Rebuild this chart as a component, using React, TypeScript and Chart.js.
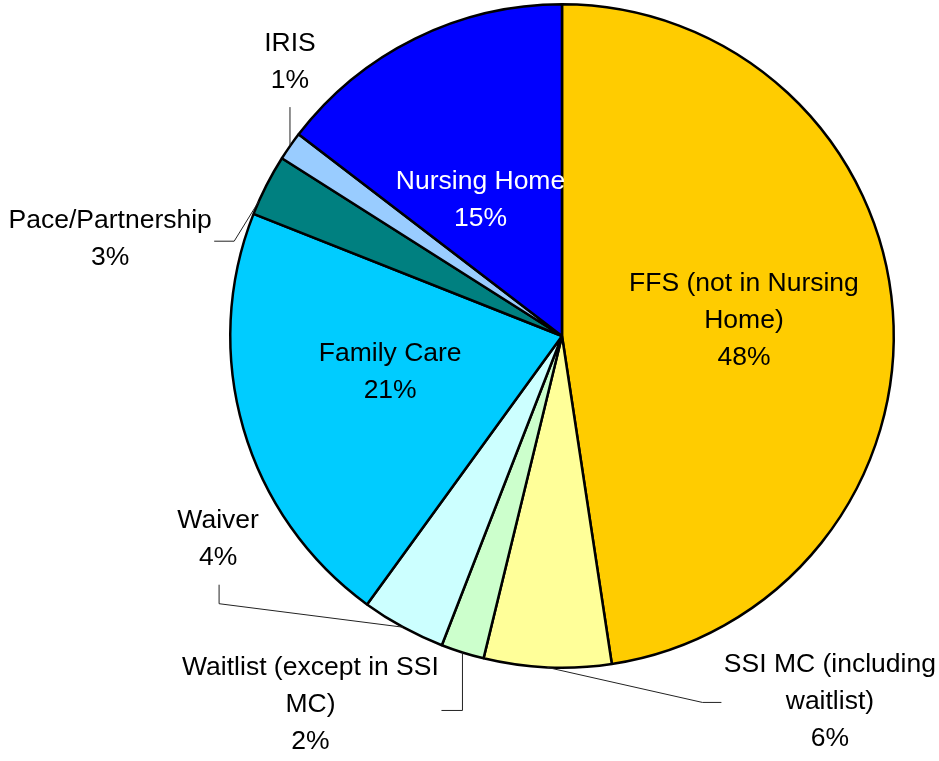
import React, { useEffect, useRef } from "react";
import { Chart, registerables } from "chart.js";

Chart.register(...registerables);

const categories = [
  "FFS (not in Nursing Home)",
  "SSI MC (including waitlist)",
  "Waitlist (except in SSI MC)",
  "Waiver",
  "Family Care",
  "Pace/Partnership",
  "IRIS",
  "Nursing Home",
];

const shares = [47.6, 6.2, 2.1, 4.1, 21.0, 3.0, 1.4, 14.6];

const labelLines = [
  ["FFS (not in Nursing", "Home)"],
  ["SSI MC (including", "waitlist)"],
  ["Waitlist (except in SSI", "MC)"],
  ["Waiver"],
  ["Family Care"],
  ["Pace/Partnership"],
  ["IRIS"],
  ["Nursing Home"],
];

const colors = ["#FFCC00", "#FFFF99", "#CCFFCC", "#CCFFFF", "#00CCFF", "#008080", "#99CCFF", "#0000FF"];
const textColors = ["#000", "#000", "#000", "#000", "#000", "#000", "#000", "#FFFFFF"];

// label layout: inside labels at a radius fraction; outside labels relative to an edge anchor
type Lay = { inside: boolean; r: number; t: number; dx: number; dy: number; leader?: number[][] };
const layout: Lay[] = [
  { inside: true, r: 0.55, t: 0.5, dx: 0, dy: -2 },
  { inside: false, r: 1, t: 0.5, dx: 282.5, dy: 34, leader: [[155, 35], [174, 35]] },
  { inside: false, r: 1, t: 0.5, dx: -152, dy: 52, leader: [[0, 58], [-21, 58]] },
  { inside: false, r: 1, t: 0.5, dx: -185, dy: -88, leader: [[-184, -23.5], [-184, -42.5]] },
  { inside: true, r: 0.53, t: 0.5, dx: -3, dy: -13 },
  { inside: false, r: 1, t: 0.22, dx: -148.7, dy: 37.5, leader: [[-24.7, 40], [-44.7, 40]] },
  { inside: false, r: 1, t: 0.5, dx: 0, dy: -84, leader: [[0, -39]] },
  { inside: true, r: 0.48, t: 0.5, dx: -11, dy: 7 },
];

const FONT = '26.5px "Liberation Sans", Arial, sans-serif';
const LINE_H = 37;

const labelPlugin = {
  id: "sliceLabels",
  afterDraw(chart: any) {
    const ctx = chart.ctx;
    const meta = chart.getDatasetMeta(0);
    const data = chart.data.datasets[0].data as number[];
    const total = data.reduce((a, b) => a + b, 0);
    ctx.save();
    ctx.font = FONT;
    ctx.textAlign = "center";
    ctx.textBaseline = "middle";
    meta.data.forEach((arc: any, i: number) => {
      const p = arc.getProps(["x", "y", "startAngle", "endAngle", "outerRadius"], true);
      const L = layout[i];
      const ang = p.startAngle + L.t * (p.endAngle - p.startAngle);
      const ax = p.x + Math.cos(ang) * p.outerRadius * L.r;
      const ay = p.y + Math.sin(ang) * p.outerRadius * L.r;
      if (L.leader) {
        ctx.beginPath();
        ctx.strokeStyle = "#222";
        ctx.lineWidth = 1;
        ctx.moveTo(ax, ay);
        L.leader.forEach(([lx, ly]) => ctx.lineTo(ax + lx, ay + ly));
        ctx.stroke();
      }
      const lines = [...labelLines[i], Math.round((data[i] / total) * 100) + "%"];
      const cx = ax + L.dx;
      const cy = ay + L.dy;
      ctx.fillStyle = textColors[i];
      lines.forEach((ln, k) => {
        ctx.fillText(ln, cx, cy + (k - (lines.length - 1) / 2) * LINE_H);
      });
    });
    ctx.restore();
  },
};

export default function App() {
  const ref = useRef<HTMLCanvasElement | null>(null);
  useEffect(() => {
    if (!ref.current) return;
    const chart = new Chart(ref.current, {
      type: "pie",
      data: {
        labels: categories,
        datasets: [
          {
            data: shares,
            backgroundColor: colors,
            borderColor: "#000",
            borderWidth: 2.5,
          },
        ],
      },
      options: {
        responsive: false,
        animation: false,
        layout: { padding: { left: 229, right: 44, top: 3, bottom: 92 } },
        plugins: { legend: { display: false }, tooltip: { enabled: false } },
      },
      plugins: [labelPlugin],
    });
    return () => chart.destroy();
  }, []);
  return (
    <div style={{ position: "absolute", left: 0, top: 0, width: 939, height: 761, background: "#fff" }}>
      <canvas ref={ref} width={939} height={761} />
    </div>
  );
}
